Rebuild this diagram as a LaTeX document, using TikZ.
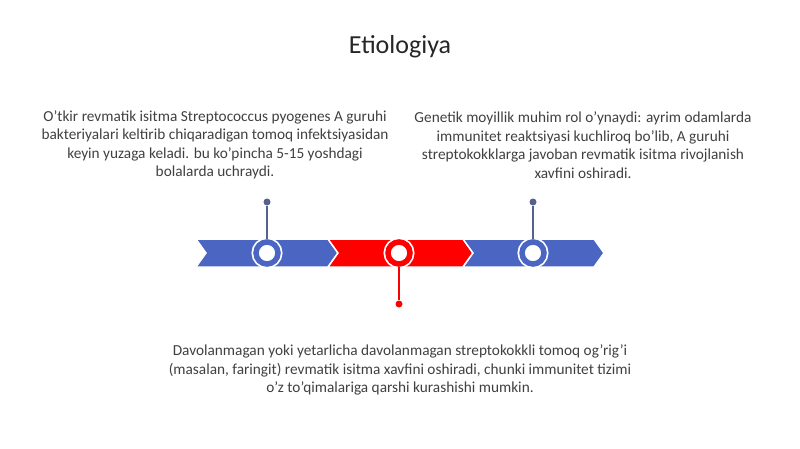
\documentclass[tikz,border=0pt]{standalone}
\usepackage{fontspec}
\setmainfont{Carlito}
\usetikzlibrary{calc}
\definecolor{bluecolor}{RGB}{74,101,194}
\definecolor{redcolor}{RGB}{255,0,0}
\definecolor{stemcolor}{RGB}{86,98,140}
\definecolor{textcolor}{RGB}{64,64,64}

\begin{document}
\begin{tikzpicture}[x=1pt,y=-1pt]
\useasboundingbox (0,0) rectangle (800,449);

% chevrons
\draw[color=white,line width=1.5pt,fill=bluecolor] (196,239) -- (328,239) -- (338,253) -- (328,267) -- (196,267) -- (206,253) -- cycle;
\draw[color=white,line width=1.5pt,fill=redcolor] (328,239) -- (463,239) -- (473,253) -- (463,267) -- (328,267) -- (338,253) -- cycle;
\draw[color=white,line width=1.5pt,fill=bluecolor] (463,239) -- (594,239) -- (604,253) -- (594,267) -- (463,267) -- (473,253) -- cycle;

\begin{scope}[every node/.style={circle,minimum size=22pt,inner sep=0pt,line width=5.5pt,fill=white,preaction={draw=white,line width=9pt}}]
\node[draw=bluecolor] (c1) at (267,253) {};
\node[draw=redcolor] (c2) at (399,253) {};
\node[draw=bluecolor] (c3) at (533,253) {};
\end{scope}

\begin{scope}[every node/.style={circle,minimum size=7pt,inner sep=0pt}]
\node[fill=stemcolor] (d1) at (267,202) {};
\node[fill=redcolor] (d2) at (399,304) {};
\node[fill=stemcolor] (d3) at (533,202) {};
\end{scope}

\draw[stemcolor,line width=1.5pt] (d1) -- (c1);
\draw[redcolor,line width=1.5pt] (c2) -- (d2);
\draw[stemcolor,line width=1.5pt] (d3) -- (c3);

\node[text=black!85,font=\fontsize{26}{30}\selectfont] (title) at (400,47) {Etiologiya};

\begin{scope}[every node/.style={text=textcolor,align=center,font=\fontsize{15.3}{18.5}\selectfont}]
\node (t1) at (215,145) {O'tkir revmatik isitma Streptococcus pyogenes A guruhi\\bakteriyalari keltirib chiqaradigan tomoq infektsiyasidan\\keyin yuzaga keladi. bu ko'pincha 5-15 yoshdagi\\bolalarda uchraydi.};
\node (t3) at (583,145) {Genetik moyillik muhim rol o'ynaydi: ayrim odamlarda\\immunitet reaktsiyasi kuchliroq bo'lib, A guruhi\\streptokokklarga javoban revmatik isitma rivojlanish\\xavfini oshiradi.};
\node (t2) at (400,370) {Davolanmagan yoki yetarlicha davolanmagan streptokokkli tomoq og'rig'i\\(masalan, faringit) revmatik isitma xavfini oshiradi, chunki immunitet tizimi\\o'z to'qimalariga qarshi kurashishi mumkin.};
\end{scope}
\end{tikzpicture}
\end{document}
